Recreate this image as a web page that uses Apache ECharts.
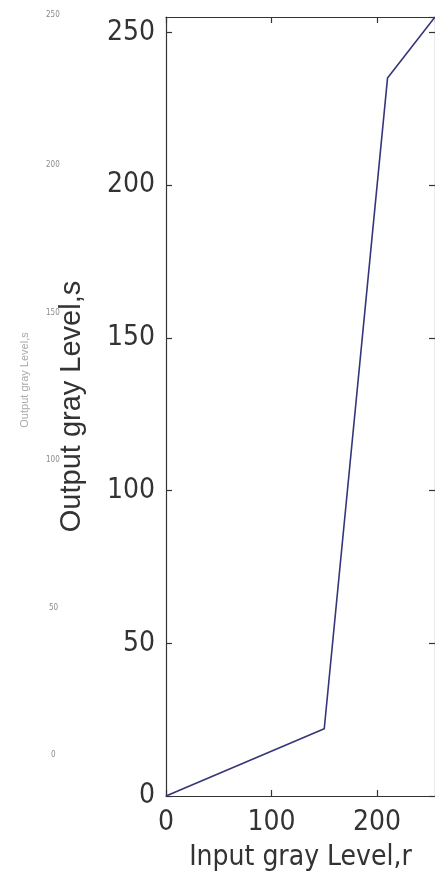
<!DOCTYPE html>
<html>
<head>
<meta charset="utf-8">
<script src="https://cdn.jsdelivr.net/npm/echarts@6/dist/echarts.min.js"></script>
<style>
html,body{margin:0;padding:0;background:#fff;}
#chart{width:435px;height:882px;}
</style>
</head>
<body>
<div id="chart"></div>
<script>
// Data
var inputLevels = [0, 150, 210, 255];
var outputLevels = [0, 22, 235, 255];
var xTicks = [0, 100, 200];
var yTicks = [0, 50, 100, 150, 200, 250];
var ghostLabels = ['250', '200', '150', '100', '50', '0'];
var xName = 'Input gray Level,r';
var yName = 'Output gray Level,s';

var narrow = "'Liberation Sans Narrow','DejaVu Sans Condensed',sans-serif";
var regular = "'Liberation Sans',Arial,sans-serif";
var axisCol = '#333';

var chart = echarts.init(document.getElementById('chart'), null, {renderer: 'canvas'});

var pts = inputLevels.map(function (x, i) { return [x, outputLevels[i]]; });

function fmt(list) {
  return function (v) { return list.indexOf(v) >= 0 ? String(v) : ''; };
}

var ghostY = [15, 165, 313, 460, 608, 755];
var ghostX = [46, 46, 46, 46, 49, 51];
var graphics = ghostLabels.map(function (t, i) {
  return {
    type: 'text', left: ghostX[i], top: ghostY[i] - 4,
    style: {text: t, fontSize: 8, fill: '#8a8a8a', fontFamily: narrow}
  };
});
graphics.push({
  type: 'text', x: 25, y: 380, rotation: Math.PI / 2,
  style: {text: yName, fontSize: 11, fill: '#a8a8a8', fontFamily: regular, align: 'center', verticalAlign: 'middle'}
});

chart.setOption({
  animation: false,
  backgroundColor: '#fff',
  graphic: graphics,
  grid: {left: 166, top: 17, width: 270, bottom: 86, show: false},
  xAxis: [{
    type: 'value', min: 0, max: 255, interval: 100, position: 'bottom',
    name: xName, nameLocation: 'middle', nameGap: 48,
    nameTextStyle: {fontFamily: narrow, fontSize: 28, color: axisCol},
    axisLine: {show: true, lineStyle: {color: axisCol, width: 1.2}},
    axisTick: {show: true, inside: true, length: 6, lineStyle: {color: axisCol, width: 1.2}},
    axisLabel: {formatter: fmt(xTicks), fontFamily: narrow, fontSize: 28, color: axisCol, margin: 13, showMaxLabel: false},
    splitLine: {show: false}
  }, {
    type: 'value', min: 0, max: 255, interval: 100, position: 'top',
    axisLine: {show: true, onZero: false, lineStyle: {color: axisCol, width: 1.2}},
    axisTick: {show: true, inside: true, length: 6, lineStyle: {color: axisCol, width: 1.2}},
    axisLabel: {show: false},
    splitLine: {show: false}
  }],
  yAxis: [{
    type: 'value', min: 0, max: 255, interval: 50, position: 'left',
    name: yName, nameLocation: 'middle', nameGap: 80, nameRotate: 90,
    nameTextStyle: {fontFamily: regular, fontSize: 29, color: axisCol},
    axisLine: {show: true, lineStyle: {color: axisCol, width: 1.2}},
    axisTick: {show: true, inside: true, length: 6, lineStyle: {color: axisCol, width: 1.2}},
    axisLabel: {formatter: fmt(yTicks), fontFamily: narrow, fontSize: 28, color: axisCol, margin: 11, showMaxLabel: false},
    splitLine: {show: false}
  }, {
    type: 'value', min: 0, max: 255, interval: 50, position: 'right',
    axisLine: {show: true, onZero: false, lineStyle: {color: axisCol, width: 1.2}},
    axisTick: {show: true, inside: true, length: 6, lineStyle: {color: axisCol, width: 1.2}},
    axisLabel: {show: false},
    splitLine: {show: false}
  }],
  series: [{
    type: 'line', data: pts, xAxisIndex: 0, yAxisIndex: 0,
    showSymbol: false, symbol: 'none',
    lineStyle: {color: '#35357a', width: 1.6}
  }]
});
</script>
</body>
</html>
